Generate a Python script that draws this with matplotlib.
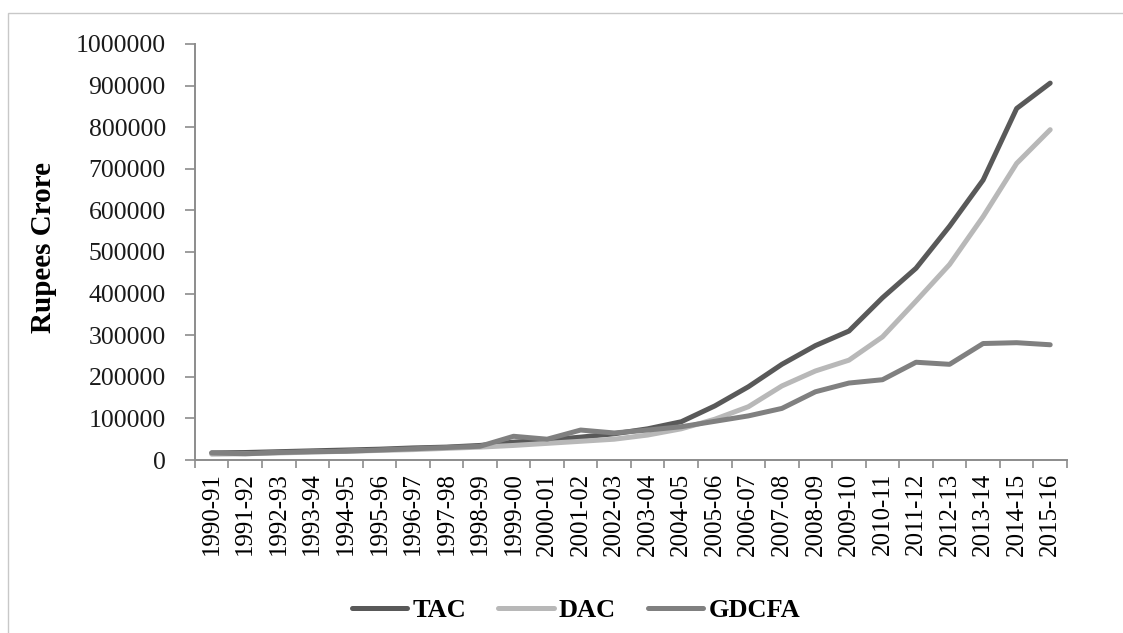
import matplotlib

matplotlib.use("Agg")
import matplotlib.pyplot as plt
from matplotlib.patches import Rectangle
from matplotlib.ticker import FuncFormatter, MultipleLocator


YEARS = [
    "1990-91", "1991-92", "1992-93", "1993-94", "1994-95", "1995-96", "1996-97",
    "1997-98", "1998-99", "1999-00", "2000-01", "2001-02", "2002-03", "2003-04",
    "2004-05", "2005-06", "2006-07", "2007-08", "2008-09", "2009-10", "2010-11",
    "2011-12", "2012-13", "2013-14", "2014-15", "2015-16",
]
TAC = [
    17000, 18000, 20000, 22000, 24000, 26000, 29000, 31000, 35000, 43000, 48000,
    55000, 63000, 75000, 92000, 130000, 176000, 230000, 275000, 310000, 390000,
    461000, 562000, 673000, 845000, 906000,
]
DAC = [
    14000, 15000, 17000, 19000, 21000, 23000, 25000, 28000, 31000, 35000, 40000,
    45000, 50000, 60000, 75000, 98000, 128000, 178000, 214000, 240000, 296000,
    382000, 470000, 585000, 713000, 794000,
]
GDCFA = [
    17000, 15000, 18000, 20000, 21000, 24000, 27000, 30000, 33000, 57000, 50000,
    72000, 65000, 72000, 80000, 93000, 106000, 124000, 164000, 185000, 193000,
    235000, 230000, 280000, 282000, 277000,
]
SERIES = {"TAC": TAC, "DAC": DAC, "GDCFA": GDCFA}
COLORS = {"TAC": "#595959", "DAC": "#b8b8b8", "GDCFA": "#808080"}

FONT = "Liberation Serif"
AXIS_GREY = "#8c8c8c"

plt.rcParams.update({"font.family": FONT})

fig = plt.figure(figsize=(11.23, 6.33), dpi=100)
ax = fig.add_axes([0.1736, 0.2733, 0.9501 - 0.1736, 0.6572])

x = list(range(len(YEARS)))
for name, values in SERIES.items():
    ax.plot(x, values, color=COLORS[name], lw=3.6, solid_capstyle="round",
            solid_joinstyle="round", label=name)

ax.set_xlim(-0.5, len(YEARS) - 0.5)
ax.set_ylim(0, 1000000)
ax.yaxis.set_major_locator(MultipleLocator(100000))
ax.yaxis.set_major_formatter(FuncFormatter(lambda v, _: f"{int(v)}"))

ax.set_xticks(x)
ax.set_xticklabels(YEARS, rotation=90, fontsize=18)
ax.set_xticks([i - 0.5 for i in range(len(YEARS) + 1)], minor=True)
ax.tick_params(axis="x", which="major", length=0, pad=9)
ax.tick_params(axis="x", which="minor", length=6, width=1.2, color=AXIS_GREY, direction="out")
ax.tick_params(axis="y", length=7, width=1.2, color=AXIS_GREY, pad=14, labelsize=18.5,
               labelcolor="#1a1a1a")

for side in ("top", "right"):
    ax.spines[side].set_visible(False)
for side in ("left", "bottom"):
    ax.spines[side].set_color(AXIS_GREY)
    ax.spines[side].set_linewidth(1.4)

ax.set_ylabel("Rupees Crore", fontsize=21, fontweight="bold")
ax.yaxis.set_label_coords(-0.158, 0.51)

ax.legend(loc="center", bbox_to_anchor=(0.437, -0.362), ncol=3, frameon=False,
          handlelength=2.1, handletextpad=0.2, columnspacing=1.2,
          prop={"family": FONT, "weight": "bold", "size": 19})

fig.patches.append(Rectangle((8 / 1123, -0.1), 1.2, 1 - 13 / 633 + 0.1,
                             transform=fig.transFigure, fill=False,
                             edgecolor="#c8c8c8", lw=1.0))

fig.savefig("out.png", dpi=100)
